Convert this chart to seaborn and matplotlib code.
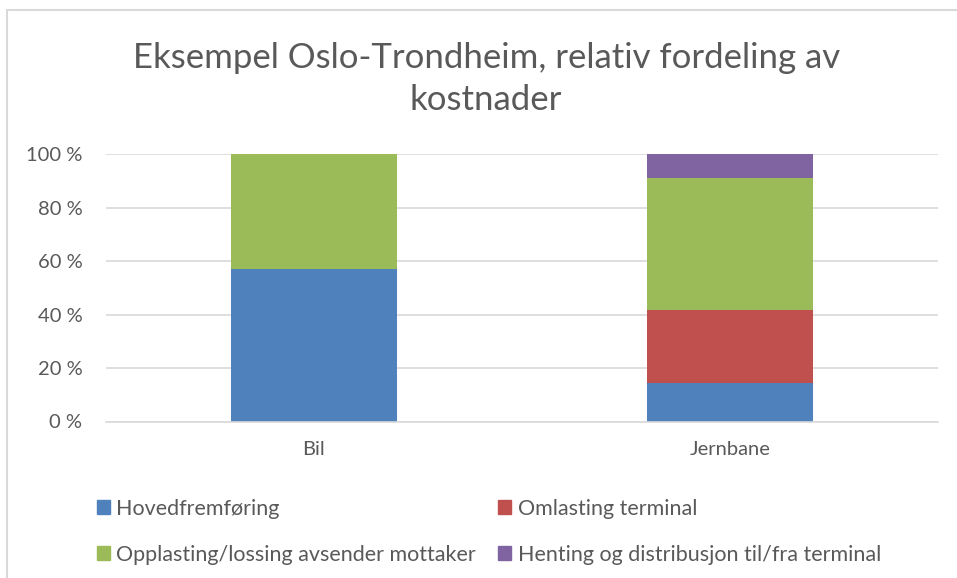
import pandas as pd
import matplotlib.pyplot as plt
import matplotlib.patches as mpatches
import seaborn as sns

# data (andeler i prosent, lest av figuren)
categories = ['Bil', 'Jernbane']
series = ['Hovedfremføring', 'Omlasting terminal',
          'Opplasting/lossing avsender mottaker',
          'Henting og distribusjon til/fra terminal']
hovedfremforing = [56.9, 14.4]
omlasting = [0.0, 27.3]
opplasting = [43.1, 49.4]
henting = [0.0, 8.9]
colors = ['#4F81BD', '#C0504D', '#9BBB59', '#8064A2']
yticks = [0, 20, 40, 60, 80, 100]

sns.set_style('white')
plt.rcParams['font.family'] = ['Lato', 'DejaVu Sans']

df = pd.DataFrame({'kategori': categories,
                   series[0]: hovedfremforing,
                   series[1]: omlasting,
                   series[2]: opplasting,
                   series[3]: henting})
# kumulative verdier for stablede søyler
cum = df[series].cumsum(axis=1)
cum['kategori'] = df['kategori']

fig = plt.figure(figsize=(9.57, 5.78), dpi=100)
ax = fig.add_axes([106/957, 1-421.5/578, (938-106)/957, (421.5-154)/578])

# tegn fra toppen og ned så hver del ligger over den forrige
for s, c in reversed(list(zip(series, colors))):
    sns.barplot(data=cum, x='kategori', y=s, color=c, width=0.4,
                saturation=1, linewidth=0, ax=ax, zorder=2)

ax.set_ylim(0, 100)
ax.set_xlim(-0.5, 1.5)
ax.set_yticks(yticks)
ax.set_yticklabels([f'{v} %' for v in yticks])
ax.set_xlabel('')
ax.set_ylabel('')
ax.grid(axis='y', color='#D9D9D9', linewidth=1.2, zorder=0)
ax.set_axisbelow(True)
for sp in ['top', 'right', 'left']:
    ax.spines[sp].set_visible(False)
ax.spines['bottom'].set_color('#D9D9D9')
ax.spines['bottom'].set_linewidth(1.2)
ax.tick_params(axis='both', length=0, labelsize=14.5, colors='#595959')
ax.tick_params(axis='y', pad=17)
ax.tick_params(axis='x', pad=14)

fig.text(0.508, 1-79/578, 'Eksempel Oslo-Trondheim, relativ fordeling av\nkostnader',
         ha='center', va='center', fontsize=25, color='#595959',
         linespacing=1.4)

handles = [mpatches.Patch(color=c, label=s) for s, c in zip(series, colors)]
order = [0, 2, 1, 3]
fig.legend([handles[i] for i in order], [series[i] for i in order],
           loc='upper left', bbox_to_anchor=(86/957, 1-488/578), ncol=2,
           frameon=False, fontsize=15.5, labelcolor='#595959',
           handlelength=0.6, handleheight=0.6, handletextpad=0.3,
           columnspacing=1.05, labelspacing=1.2, borderpad=0)

fig.add_artist(mpatches.Rectangle((6.5/957, -0.1), 1.2, 1.1 - 9.5/578,
                                  transform=fig.transFigure, fill=False,
                                  edgecolor='#D9D9D9', linewidth=1.5))

fig.savefig('out.png', dpi=100)
